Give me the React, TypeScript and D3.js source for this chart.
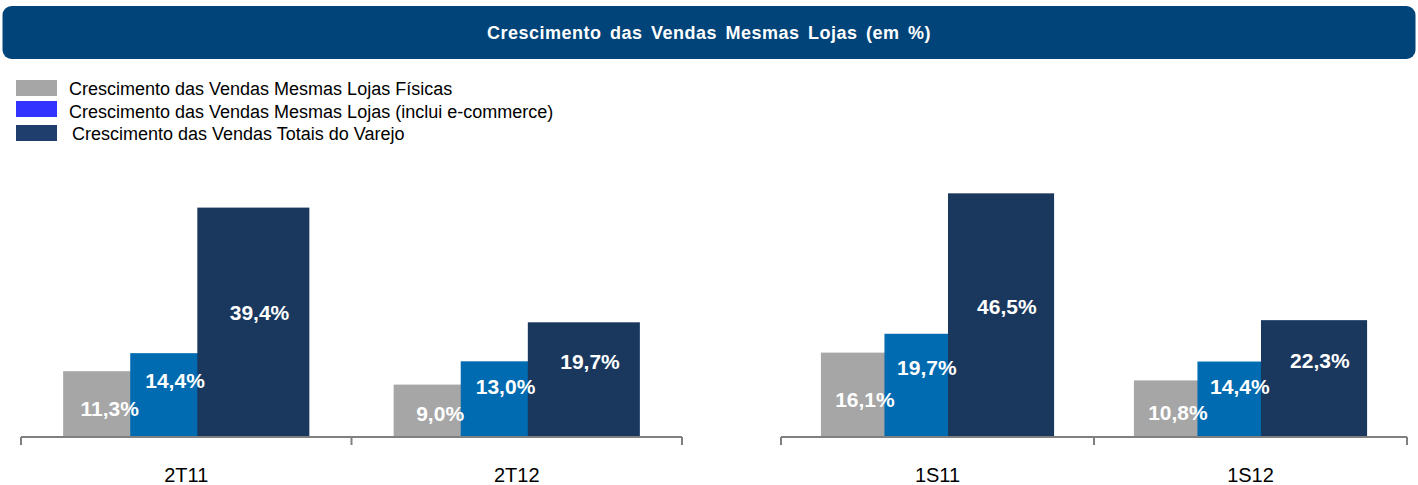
import React from "react"
import * as d3 from "d3"

const WIDTH = 1418
const HEIGHT = 485
const FONT = "'Liberation Sans', Arial, Helvetica, sans-serif"

const TITLE = "Crescimento das Vendas Mesmas Lojas (em %)"

const SERIES = [
  "Crescimento das Vendas Mesmas Lojas Físicas",
  "Crescimento das Vendas Mesmas Lojas (inclui e-commerce)",
  "Crescimento das Vendas Totais do Varejo",
]
const LEGEND_COLORS = ["#a6a6a6", "#3333ff", "#1f3e6e"]
const BAR_COLORS = ["#a6a6a6", "#006bb0", "#1a375e"]

// two panels, each with its own value scale
const PANEL_CATEGORIES = [
  ["2T11", "2T12"],
  ["1S11", "1S12"],
]
const PANEL_Y_MAX = [45, 50]

const lojasFisicas = { "2T11": 11.3, "2T12": 9.0, "1S11": 16.1, "1S12": 10.8 }
const lojasEcommerce = { "2T11": 14.4, "2T12": 13.0, "1S11": 19.7, "1S12": 14.4 }
const vendasTotais = { "2T11": 39.4, "2T12": 19.7, "1S11": 46.5, "1S12": 22.3 }
const seriesValues = [lojasFisicas, lojasEcommerce, vendasTotais]

const fmt = (v: number) => v.toFixed(1).replace(".", ",") + "%"

const PANEL_RANGES: [number, number][] = [
  [21, 682],
  [781, 1407],
]
const BASELINE = 437
const TOP = 175

// where the data labels sit inside each bar
// x: fraction of bar width; y: offset from bar top = frac * height + px
const LABEL_X = [0.415, 0.4, 0.555]
const LABEL_Y_FRAC = [0.56, 0.33, 0.578]
const LABEL_Y_PX = [0, 0, -27.5]

function Panel({ idx }: { idx: number }) {
  const cats = PANEL_CATEGORIES[idx]
  const x = d3.scaleBand().domain(cats).range(PANEL_RANGES[idx]).padding(0)
  const y = d3
    .scaleLinear()
    .domain([0, PANEL_Y_MAX[idx]])
    .range([BASELINE, TOP])
  const bw = x.bandwidth()
  const barW = bw * 0.339
  const step = bw * 0.203
  const [r0, r1] = PANEL_RANGES[idx]
  const ticks = [r0, ...cats.map(c => (x(c) as number) + bw)]

  return (
    <g>
      {cats.map(c => {
        const center = (x(c) as number) + bw / 2
        const start = center - (2 * step + barW) / 2
        return (
          <g key={c}>
            {seriesValues.map((s, i) => (
              <rect
                key={i}
                x={start + i * step}
                y={y(s[c])}
                width={barW}
                height={BASELINE - y(s[c])}
                fill={BAR_COLORS[i]}
              />
            ))}
            {seriesValues.map((s, i) => {
              const top = y(s[c])
              const h = BASELINE - top
              return (
                <text
                  key={"l" + i}
                  x={start + i * step + barW * LABEL_X[i]}
                  y={top + h * LABEL_Y_FRAC[i] + LABEL_Y_PX[i]}
                  textAnchor="middle"
                  dominantBaseline="central"
                  fontSize={21}
                  fontWeight="bold"
                  fill="#ffffff"
                >
                  {fmt(s[c])}
                </text>
              )
            })}
            <text
              x={center}
              y={482}
              textAnchor="middle"
              fontSize={20}
              fill="#000000"
            >
              {c}
            </text>
          </g>
        )
      })}
      <line
        x1={r0}
        x2={r1}
        y1={BASELINE}
        y2={BASELINE}
        stroke="#808080"
        strokeWidth={2}
      />
      {ticks.map(t => (
        <line
          key={t}
          x1={t}
          x2={t}
          y1={BASELINE}
          y2={BASELINE + 8}
          stroke="#808080"
          strokeWidth={2}
        />
      ))}
    </g>
  )
}

export default function App() {
  const legendY = [80, 101, 125]
  const legendTextX = [69, 69, 72]
  const legendBase = [95, 118, 140]

  return (
    <div style={{ position: "absolute", left: 0, top: 0 }}>
      <svg
        width={WIDTH}
        height={HEIGHT}
        style={{ display: "block", fontFamily: FONT, background: "#ffffff" }}
      >
        {/* title bar */}
        <rect
          x={2.5}
          y={6}
          width={1413}
          height={53}
          rx={9}
          fill="#004479"
        />
        <text
          x={709}
          y={39}
          textAnchor="middle"
          fontSize={18}
          fontWeight="bold"
          fill="#ffffff"
          style={{ wordSpacing: "3px", letterSpacing: "0.5px" }}
        >
          {TITLE}
        </text>

        {/* legend */}
        {SERIES.map((s, i) => (
          <g key={s}>
            <rect
              x={16}
              y={legendY[i]}
              width={41}
              height={16}
              fill={LEGEND_COLORS[i]}
            />
            <text
              x={legendTextX[i]}
              y={legendBase[i]}
              fontSize={18}
              fill="#000000"
            >
              {s}
            </text>
          </g>
        ))}

        <Panel idx={0} />
        <Panel idx={1} />
      </svg>
    </div>
  )
}
